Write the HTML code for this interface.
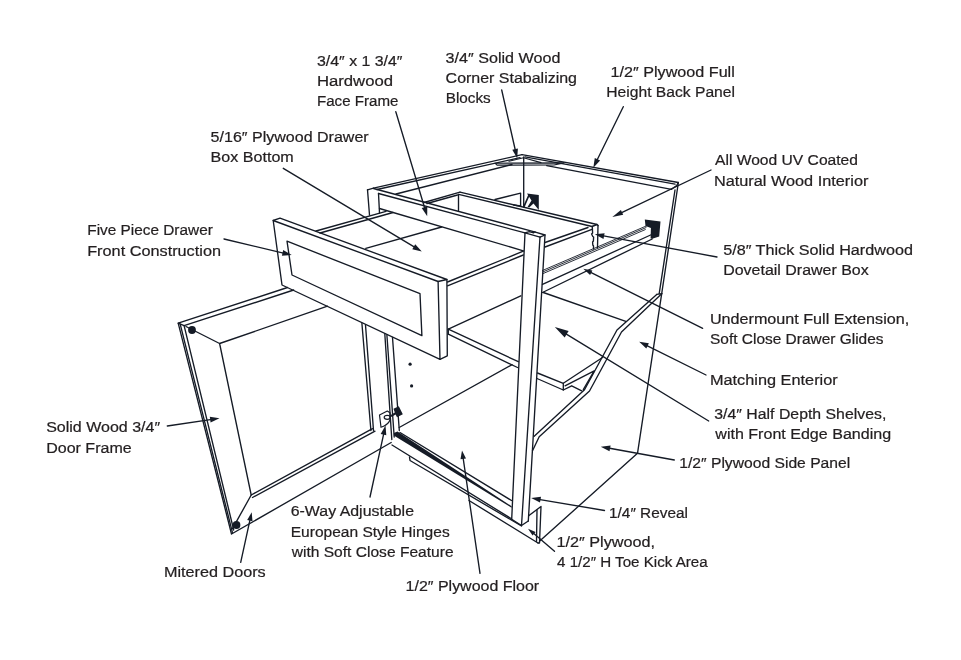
<!DOCTYPE html>
<html><head><meta charset="utf-8"><title>Cabinet Construction</title>
<style>
html,body{margin:0;padding:0;background:#fff;}
body{width:961px;height:660px;overflow:hidden;}
svg{display:block;will-change:transform;opacity:0.999;}
svg text{font-family:"Liberation Sans",sans-serif;font-size:15.2px;fill:#231f20;stroke:#231f20;stroke-width:0.22px;}
svg path{stroke-linecap:round;stroke-linejoin:round;}
</style></head><body>
<svg width="961" height="660" viewBox="0 0 961 660">
<rect width="961" height="660" fill="#ffffff"/>
<path d="M367.5,189.8 L369.5,215.0" fill="none" stroke="#151b26" stroke-width="1.35"/>
<path d="M378.5,193.5 L379.5,213.0" fill="none" stroke="#151b26" stroke-width="1.35"/>
<path d="M367.5,189.8 L373.5,188.2" fill="none" stroke="#151b26" stroke-width="1.35"/>
<path d="M373.5,188.2 L522.0,154.7" fill="none" stroke="#151b26" stroke-width="1.35"/>
<path d="M377.0,189.5 L520.0,157.7" fill="none" stroke="#151b26" stroke-width="1.35"/>
<path d="M396.0,194.0 L512.0,164.5" fill="none" stroke="#151b26" stroke-width="1.35"/>
<path d="M522.0,154.7 L678.3,182.5" fill="none" stroke="#151b26" stroke-width="1.35"/>
<path d="M525.0,156.9 L675.0,184.2" fill="none" stroke="#151b26" stroke-width="1.35"/>
<path d="M546.7,165.6 L671.5,189.3" fill="none" stroke="#151b26" stroke-width="1.35"/>
<path d="M678.3,182.5 L676.7,185.5 L671.5,189.3" fill="none" stroke="#151b26" stroke-width="1.35"/>
<path d="M495.0,163.2 L564.0,162.9 L554.0,165.0 L497.0,165.1 Z" fill="none" stroke="#151b26" stroke-width="1.1"/>
<path d="M509.0,161.3 L523.5,157.8 L541.0,162.6" fill="none" stroke="#151b26" stroke-width="1.1"/>
<path d="M523.7,157.0 L523.7,206.5" fill="none" stroke="#151b26" stroke-width="1.35"/>
<path d="M678.3,183.0 L661.7,293.7" fill="none" stroke="#151b26" stroke-width="1.35"/>
<path d="M675.0,190.0 L659.2,293.7" fill="none" stroke="#151b26" stroke-width="1.35"/>
<path d="M656.7,294.4 L661.7,293.7" fill="none" stroke="#151b26" stroke-width="1.35"/>
<path d="M661.7,293.7 L637.5,453.3" fill="none" stroke="#151b26" stroke-width="1.35"/>
<path d="M637.5,453.3 L540.0,540.8" fill="none" stroke="#151b26" stroke-width="1.35"/>
<path d="M661.7,293.7 L621.5,332.0 L589.5,391.0 L539.2,436.7 L532.5,450.8" fill="none" stroke="#151b26" stroke-width="1.35"/>
<path d="M656.7,294.4 L617.0,330.0 L584.5,389.7 L534.2,436.3" fill="none" stroke="#151b26" stroke-width="1.35"/>
<path d="M373.5,188.5 L535.4,232.1" fill="none" stroke="#151b26" stroke-width="1.35"/>
<path d="M378.5,193.5 L525.0,232.9 L540.0,237.1" fill="none" stroke="#151b26" stroke-width="1.35"/>
<path d="M379.5,208.5 L523.3,250.8" fill="none" stroke="#151b26" stroke-width="1.35"/>
<path d="M525.0,232.9 L511.7,519.2" fill="none" stroke="#151b26" stroke-width="1.35"/>
<path d="M540.0,237.1 L521.5,525.5" fill="none" stroke="#151b26" stroke-width="1.35"/>
<path d="M545.0,235.0 L528.3,521.0" fill="none" stroke="#151b26" stroke-width="1.35"/>
<path d="M525.0,232.9 L529.3,231.7 L533.6,232.9 L534.2,232.0 L535.4,232.1 L545.0,235.0 L540.0,237.1" fill="none" stroke="#151b26" stroke-width="1.35"/>
<path d="M511.7,519.2 L521.5,525.5 L528.3,521.0" fill="none" stroke="#151b26" stroke-width="1.35"/>
<path d="M424.0,202.5 L460.0,192.2" fill="none" stroke="#151b26" stroke-width="1.35"/>
<path d="M427.0,203.5 L457.5,195.0" fill="none" stroke="#151b26" stroke-width="1.35"/>
<path d="M460.0,192.2 L597.0,224.5 L598.0,225.5" fill="none" stroke="#151b26" stroke-width="1.35"/>
<path d="M458.7,194.4 L592.0,226.5 L597.0,224.5" fill="none" stroke="#151b26" stroke-width="1.35"/>
<path d="M458.5,194.4 L458.5,210.6" fill="none" stroke="#151b26" stroke-width="1.35"/>
<path d="M495.0,199.5 L520.6,193.2 L520.6,206.0" fill="none" stroke="#151b26" stroke-width="1.35"/>
<path d="M513.7,205.0 L520.6,206.0" fill="none" stroke="#151b26" stroke-width="1.35"/>
<path d="M527.0,193.5 L538.8,195.0 L538.8,210.0 L533.5,203.5 L529.5,207.2 L527.5,207.0 L531.5,200.5 Z" fill="#151b26" stroke="none"/>
<path d="M528.8,195.5 L523.8,206.8" fill="none" stroke="#151b26" stroke-width="1.7"/>
<path d="M592.3,226.5 L592.6,233.0 L591.6,234.0 L592.8,236.5 L593.6,237.0 L593.4,241.0 L592.6,242.0 L592.8,245.0 L593.5,246.0 L593.5,249.0" fill="none" stroke="#151b26" stroke-width="1.35"/>
<path d="M598.0,225.5 L597.5,247.5" fill="none" stroke="#151b26" stroke-width="1.35"/>
<path d="M588.0,227.5 L545.0,242.5" fill="none" stroke="#151b26" stroke-width="1.35"/>
<path d="M592.0,229.3 L545.0,247.0" fill="none" stroke="#151b26" stroke-width="1.35"/>
<path d="M523.3,251.2 L447.5,282.0" fill="none" stroke="#151b26" stroke-width="1.35"/>
<path d="M523.3,255.0 L447.5,285.8" fill="none" stroke="#151b26" stroke-width="1.35"/>
<path d="M273.2,220.5 L438.1,281.5 L440.0,359.4 L282.0,285.0 Z" fill="none" stroke="#151b26" stroke-width="1.35"/>
<path d="M273.2,220.5 L280.0,218.2 L446.9,279.5 L438.1,281.5" fill="none" stroke="#151b26" stroke-width="1.35"/>
<path d="M446.9,279.5 L447.3,355.8 L440.0,359.4" fill="none" stroke="#151b26" stroke-width="1.35"/>
<path d="M287.0,241.2 L420.0,293.7 L421.9,335.6 L292.0,275.0 Z" fill="none" stroke="#151b26" stroke-width="1.35"/>
<path d="M316.0,231.0 L386.0,211.3" fill="none" stroke="#151b26" stroke-width="1.35"/>
<path d="M320.0,233.0 L393.0,212.5" fill="none" stroke="#151b26" stroke-width="1.35"/>
<path d="M365.8,248.3 L441.7,227.0" fill="none" stroke="#151b26" stroke-width="1.35"/>
<path d="M287.5,287.5 L178.2,323.2 L231.5,534.0 L391.2,442.5" fill="none" stroke="#151b26" stroke-width="1.35"/>
<path d="M180.2,324.2 L232.4,532.4" fill="none" stroke="#151b26" stroke-width="1.35"/>
<path d="M293.7,290.0 L184.1,325.7 L233.7,530.0" fill="none" stroke="#151b26" stroke-width="1.35"/>
<path d="M178.2,323.2 L184.1,325.7" fill="none" stroke="#151b26" stroke-width="1.35"/>
<path d="M327.5,306.2 L219.6,343.5 L251.2,495.0 L372.5,428.7" fill="none" stroke="#151b26" stroke-width="1.35"/>
<path d="M252.5,497.5 L375.0,431.2" fill="none" stroke="#151b26" stroke-width="1.35"/>
<path d="M361.9,323.3 L370.9,430.5" fill="none" stroke="#151b26" stroke-width="1.35"/>
<path d="M365.5,325.0 L373.5,430.5" fill="none" stroke="#151b26" stroke-width="1.35"/>
<path d="M186.0,326.5 L219.6,343.5" fill="none" stroke="#151b26" stroke-width="1.35"/>
<path d="M251.2,495.0 L232.5,528.7" fill="none" stroke="#151b26" stroke-width="1.35"/>
<circle cx="192" cy="330" r="3.9" fill="#151b26"/>
<circle cx="236.5" cy="525" r="3.9" fill="#151b26"/>
<path d="M384.8,333.7 L391.8,439.5" fill="none" stroke="#151b26" stroke-width="1.35"/>
<path d="M386.9,335.0 L394.2,437.0" fill="none" stroke="#151b26" stroke-width="1.35"/>
<path d="M392.5,337.5 L399.3,430.5" fill="none" stroke="#151b26" stroke-width="1.35"/>
<path d="M379.5,415 L387.3,411 L390,412.8 L390,420 Q388,425 381,427.3 Z" fill="none" stroke="#151b26" stroke-width="1.2"/>
<ellipse cx="387.2" cy="417.3" rx="3" ry="2" fill="none" stroke="#151b26" stroke-width="1.2"/>
<path d="M393.5,408.8 L398.8,406.2 L402.8,414.3 L397.0,417.2 L395.6,414.6 L391.5,417.0 L390.3,415.2 L394.8,412.6 Z" fill="#151b26" stroke="none"/>
<circle cx="410.1" cy="364.2" r="1.6" fill="#151b26"/>
<circle cx="411.6" cy="385.9" r="1.6" fill="#151b26"/>
<path d="M399.2,427.5 L512.0,364.7" fill="none" stroke="#151b26" stroke-width="1.35"/>
<path d="M400.0,432.5 L511.5,500.5" fill="none" stroke="#151b26" stroke-width="1.35"/>
<path d="M393.8,433.0 L397.5,431.6 L511.6,506.2 L511.6,507.7 L393.8,435.6 Z" fill="#151b26" stroke="none"/>
<path d="M392.0,445.0 L511.0,518.5" fill="none" stroke="#151b26" stroke-width="1.35"/>
<path d="M409.5,457.0 L410.0,460.5 L521.5,526.0" fill="none" stroke="#151b26" stroke-width="1.35"/>
<path d="M469.0,500.5 L538.0,543.0" fill="none" stroke="#151b26" stroke-width="1.35"/>
<path d="M448.3,329.2 L520.8,295.8" fill="none" stroke="#151b26" stroke-width="1.35"/>
<path d="M448.3,329.2 L518.3,361.7" fill="none" stroke="#151b26" stroke-width="1.35"/>
<path d="M448.3,334.2 L517.5,367.5" fill="none" stroke="#151b26" stroke-width="1.35"/>
<path d="M448.3,329.2 L448.3,334.2" fill="none" stroke="#151b26" stroke-width="1.35"/>
<path d="M537.5,373.0 L563.3,383.3 L563.3,390.0 L537.0,378.5" fill="none" stroke="#151b26" stroke-width="1.35"/>
<path d="M563.3,383.3 L602.5,357.5" fill="none" stroke="#151b26" stroke-width="1.35"/>
<path d="M565.0,385.8 L594.2,370.8 L583.3,389.7" fill="none" stroke="#151b26" stroke-width="1.35"/>
<path d="M563.3,390.0 L571.7,385.8 L581.7,390.8" fill="none" stroke="#151b26" stroke-width="1.35"/>
<path d="M543.3,292.5 L625.8,321.3" fill="none" stroke="#151b26" stroke-width="1.35"/>
<path d="M542.5,270.5 L646.7,225.8" fill="none" stroke="#151b26" stroke-width="0.9"/>
<path d="M542.5,272.1 L646.0,227.6" fill="none" stroke="#151b26" stroke-width="0.9"/>
<path d="M542.5,273.8 L645.3,229.6" fill="none" stroke="#151b26" stroke-width="0.9"/>
<path d="M542.5,284.4 L650.6,235.0" fill="none" stroke="#151b26" stroke-width="1.35"/>
<path d="M542.5,292.5 L652.2,239.0" fill="none" stroke="#151b26" stroke-width="1.35"/>
<path d="M644.8,219.5 L660.5,221.5 L659.2,236.5 L652.2,238.8 L650.6,238.6 L650.9,228.0 L645.5,225.9 Z" fill="#151b26" stroke="none"/>
<path d="M529.0,515.5 L541.0,506.5 L539.5,543.0 L538.0,543.0" fill="none" stroke="#151b26" stroke-width="1.35"/>
<path d="M537.0,510.0 L536.5,541.5" fill="none" stroke="#151b26" stroke-width="1.35"/>
<path d="M395.8,111.7 L425.0,209.0" fill="none" stroke="#151b26" stroke-width="1.35"/>
<path d="M427.2,216.2 L421.7,208.0 L427.3,206.4 Z" fill="#151b26" stroke="none"/>
<path d="M501.7,90.0 L515.5,151.0" fill="none" stroke="#151b26" stroke-width="1.35"/>
<path d="M517.2,158.3 L512.3,149.8 L517.9,148.5 Z" fill="#151b26" stroke="none"/>
<path d="M623.3,106.7 L596.6,161.0" fill="none" stroke="#151b26" stroke-width="1.35"/>
<path d="M593.3,167.7 L594.8,158.0 L600.1,160.5 Z" fill="#151b26" stroke="none"/>
<path d="M283.3,168.3 L415.4,247.7" fill="none" stroke="#151b26" stroke-width="1.35"/>
<path d="M421.8,251.6 L412.3,249.2 L415.2,244.3 Z" fill="#151b26" stroke="none"/>
<path d="M711.0,170.0 L620.1,213.3" fill="none" stroke="#151b26" stroke-width="1.35"/>
<path d="M612.3,217.0 L620.9,209.9 L623.2,214.8 Z" fill="#151b26" stroke="none"/>
<path d="M224.0,239.0 L284.4,253.3" fill="none" stroke="#151b26" stroke-width="1.35"/>
<path d="M291.7,255.0 L281.9,255.7 L283.2,250.0 Z" fill="#151b26" stroke="none"/>
<path d="M717.0,257.0 L602.2,235.7" fill="none" stroke="#151b26" stroke-width="1.35"/>
<path d="M594.8,234.3 L604.6,233.2 L603.5,238.9 Z" fill="#151b26" stroke="none"/>
<path d="M702.7,328.3 L589.7,271.9" fill="none" stroke="#151b26" stroke-width="1.35"/>
<path d="M583.3,268.7 L592.4,270.4 L590.1,274.9 Z" fill="#151b26" stroke="none"/>
<path d="M706.0,375.0 L645.9,345.1" fill="none" stroke="#151b26" stroke-width="1.35"/>
<path d="M639.2,341.7 L648.9,343.3 L646.3,348.5 Z" fill="#151b26" stroke="none"/>
<path d="M708.7,421.0 L564.3,332.8" fill="none" stroke="#151b26" stroke-width="1.35"/>
<path d="M554.8,327.0 L568.6,331.1 L564.7,337.4 Z" fill="#151b26" stroke="none"/>
<path d="M674.3,460.0 L608.2,448.0" fill="none" stroke="#151b26" stroke-width="1.35"/>
<path d="M600.8,446.7 L610.6,445.5 L609.5,451.2 Z" fill="#151b26" stroke="none"/>
<path d="M167.3,426.0 L212.1,419.4" fill="none" stroke="#151b26" stroke-width="1.35"/>
<path d="M219.5,418.3 L210.6,422.5 L209.8,416.8 Z" fill="#151b26" stroke="none"/>
<path d="M370.0,497.0 L383.9,432.8" fill="none" stroke="#151b26" stroke-width="1.35"/>
<path d="M385.5,425.5 L386.3,435.3 L380.7,434.1 Z" fill="#151b26" stroke="none"/>
<path d="M604.5,510.5 L538.6,499.3" fill="none" stroke="#151b26" stroke-width="1.35"/>
<path d="M531.2,498.0 L541.0,496.7 L540.0,502.4 Z" fill="#151b26" stroke="none"/>
<path d="M554.5,551.2 L532.9,532.8" fill="none" stroke="#151b26" stroke-width="1.35"/>
<path d="M528.0,528.7 L535.6,532.1 L532.6,535.6 Z" fill="#151b26" stroke="none"/>
<path d="M240.7,562.3 L250.2,518.9" fill="none" stroke="#151b26" stroke-width="1.35"/>
<path d="M251.7,512.3 L252.5,521.2 L247.2,520.0 Z" fill="#151b26" stroke="none"/>
<path d="M480.0,573.3 L463.0,457.2" fill="none" stroke="#151b26" stroke-width="1.35"/>
<path d="M462.0,450.5 L466.0,458.5 L460.5,459.3 Z" fill="#151b26" stroke="none"/>
<text x="317.0" y="65.8" textLength="85.5" lengthAdjust="spacingAndGlyphs">3/4″ x 1 3/4″</text>
<text x="316.9" y="85.8" textLength="76.2" lengthAdjust="spacingAndGlyphs">Hardwood</text>
<text x="317.0" y="105.8" textLength="81.4" lengthAdjust="spacingAndGlyphs">Face Frame</text>
<text x="445.6" y="63.3" textLength="114.8" lengthAdjust="spacingAndGlyphs">3/4″ Solid Wood</text>
<text x="445.6" y="83.3" textLength="131.4" lengthAdjust="spacingAndGlyphs">Corner Stabalizing</text>
<text x="445.7" y="103.3" textLength="45.0" lengthAdjust="spacingAndGlyphs">Blocks</text>
<text x="610.6" y="77.3" textLength="124.2" lengthAdjust="spacingAndGlyphs">1/2″ Plywood Full</text>
<text x="606.3" y="97.3" textLength="128.7" lengthAdjust="spacingAndGlyphs">Height Back Panel</text>
<text x="210.6" y="142.3" textLength="158.1" lengthAdjust="spacingAndGlyphs">5/16″ Plywood Drawer</text>
<text x="210.6" y="162.3" textLength="83.2" lengthAdjust="spacingAndGlyphs">Box Bottom</text>
<text x="715.0" y="165.0" textLength="143.0" lengthAdjust="spacingAndGlyphs">All Wood UV Coated</text>
<text x="713.9" y="185.7" textLength="154.5" lengthAdjust="spacingAndGlyphs">Natural Wood Interior</text>
<text x="87.3" y="235.0" textLength="125.5" lengthAdjust="spacingAndGlyphs">Five Piece Drawer</text>
<text x="87.2" y="255.7" textLength="133.8" lengthAdjust="spacingAndGlyphs">Front Construction</text>
<text x="723.2" y="255.0" textLength="189.7" lengthAdjust="spacingAndGlyphs">5/8″ Thick Solid Hardwood</text>
<text x="723.2" y="275.0" textLength="145.5" lengthAdjust="spacingAndGlyphs">Dovetail Drawer Box</text>
<text x="709.9" y="324.3" textLength="199.3" lengthAdjust="spacingAndGlyphs">Undermount Full Extension,</text>
<text x="710.0" y="344.0" textLength="173.5" lengthAdjust="spacingAndGlyphs">Soft Close Drawer Glides</text>
<text x="709.9" y="385.0" textLength="127.8" lengthAdjust="spacingAndGlyphs">Matching Enterior</text>
<text x="714.3" y="419.0" textLength="172.0" lengthAdjust="spacingAndGlyphs">3/4″ Half Depth Shelves,</text>
<text x="715.3" y="439.0" textLength="175.8" lengthAdjust="spacingAndGlyphs">with Front Edge Banding</text>
<text x="679.3" y="468.3" textLength="170.9" lengthAdjust="spacingAndGlyphs">1/2″ Plywood Side Panel</text>
<text x="46.2" y="432.3" textLength="113.9" lengthAdjust="spacingAndGlyphs">Solid Wood 3/4″</text>
<text x="46.2" y="453.3" textLength="85.5" lengthAdjust="spacingAndGlyphs">Door Frame</text>
<text x="290.7" y="516.0" textLength="123.3" lengthAdjust="spacingAndGlyphs">6-Way Adjustable</text>
<text x="290.7" y="536.7" textLength="159.0" lengthAdjust="spacingAndGlyphs">European Style Hinges</text>
<text x="291.7" y="556.7" textLength="161.9" lengthAdjust="spacingAndGlyphs">with Soft Close Feature</text>
<text x="609.0" y="517.5" textLength="79.0" lengthAdjust="spacingAndGlyphs">1/4″ Reveal</text>
<text x="556.4" y="546.7" textLength="98.7" lengthAdjust="spacingAndGlyphs">1/2″ Plywood,</text>
<text x="557.0" y="566.7" textLength="150.7" lengthAdjust="spacingAndGlyphs">4 1/2″ H Toe Kick Area</text>
<text x="163.9" y="576.7" textLength="101.8" lengthAdjust="spacingAndGlyphs">Mitered Doors</text>
<text x="405.6" y="590.7" textLength="133.6" lengthAdjust="spacingAndGlyphs">1/2″ Plywood Floor</text>
</svg>
</body></html>
